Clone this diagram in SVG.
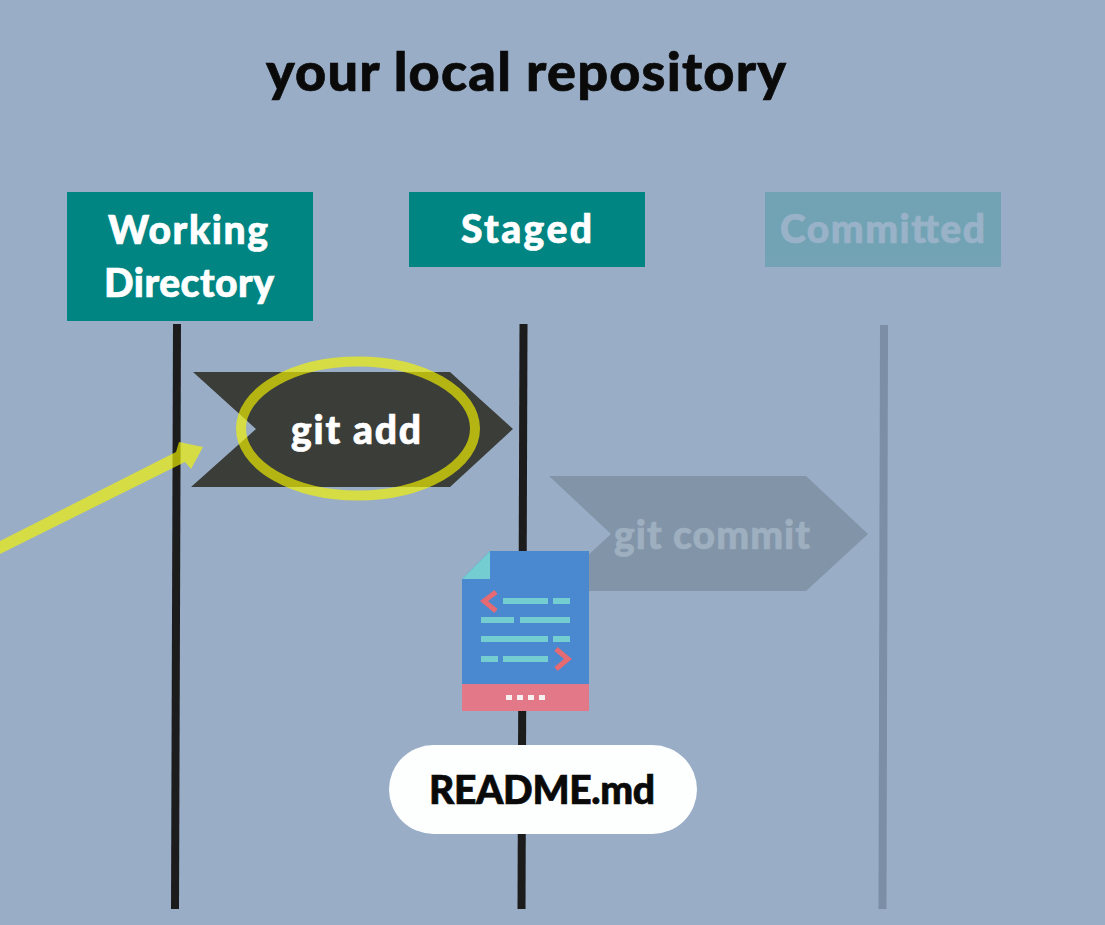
<svg xmlns="http://www.w3.org/2000/svg" width="1105" height="925" viewBox="0 0 1105 925">
<style>
text{font-family:"Lato","Liberation Sans",sans-serif;font-weight:900;text-anchor:middle;stroke-width:.7px;paint-order:stroke}
.h{fill:#fff;stroke:#fff;font-size:39px}
.hb{fill:#008583}
.ln{fill:none;stroke:#1c1c1c;stroke-width:8}
.c{fill:#74cdd0}
</style>
<rect width="1105" height="925" fill="#99adc6"/>
<text id="title" x="526" y="91" font-size="54" fill="#0a0a0a" stroke="#0a0a0a" textLength="520" lengthAdjust="spacing">your local repository</text>
<g id="connectors">
<path class="ln" d="M177 324L175 909"/>
<path class="ln" d="M523.500 324L521.500 909"/>
<path class="ln" d="M884 325L882.500 909" style="stroke:#7c8ea6"/>
</g>
<g id="working-directory"><rect class="hb" x="67" y="192" width="246" height="129"/><text class="h" x="188" y="244" textLength="160" lengthAdjust="spacing">Working</text><text class="h" x="189" y="297" textLength="170" lengthAdjust="spacing">Directory</text></g>
<g id="staged"><rect class="hb" x="409" y="192" width="236" height="75"/><text class="h" x="526.500" y="243" textLength="131" lengthAdjust="spacing">Staged</text></g>
<g id="committed" opacity=".5"><rect x="765" y="192" width="236" height="75" fill="#4d9aa3"/><text class="h" x="882.500" y="243" textLength="205" lengthAdjust="spacing" style="fill:#99b8ca;stroke:#99b8ca">Committed</text></g>
<g id="git-add">
<path d="M193 372H450L513 429L450 487H191L256 429Z" fill="#3a3d38"/>
<text x="356" y="444" font-size="39" fill="#fff" stroke="#fff" textLength="130" lengthAdjust="spacing">git add</text>
<ellipse cx="358" cy="428.500" rx="117" ry="67" fill="none" stroke="#f5f400" stroke-opacity=".66" stroke-width="10"/>
</g>
<g id="git-commit">
<path d="M549 476H806L868 534L806 591H549L611 534Z" fill="#8294a7"/>
<text x="712" y="549" font-size="39" fill="#9eafc0" stroke="#9eafc0" textLength="196" lengthAdjust="spacing">git commit</text>
</g>
<g id="file">
<path d="M490 551H589V711H462V579Z" fill="#4a88d0"/>
<path d="M490 551V579H462Z" fill="#74cdd0"/>
<rect x="462" y="684" width="127" height="27" fill="#e27888"/>
<g fill="#f6f0f0"><rect x="506" y="695" width="6" height="5"/><rect x="517" y="695" width="6" height="5"/><rect x="528" y="695" width="6" height="5"/><rect x="539" y="695" width="6" height="5"/></g>
<path d="M496 592L484 601L496 611M556 649L568 659L556 669" fill="none" stroke="#e56a72" stroke-width="5"/>
<rect class="c" x="503" y="598" width="45" height="6"/><rect class="c" x="553" y="598" width="17" height="6"/>
<rect class="c" x="481" y="617" width="33" height="6"/><rect class="c" x="520" y="617" width="50" height="6"/>
<rect class="c" x="481" y="636" width="67" height="6"/><rect class="c" x="553" y="636" width="17" height="6"/>
<rect class="c" x="481" y="656" width="17" height="6"/><rect class="c" x="503" y="656" width="45" height="6"/>
</g>
<g id="readme"><rect x="389" y="745" width="308" height="89" rx="44.500" fill="#fdfefe"/><text x="542" y="804" font-size="39" fill="#0a0a0a" stroke="#0a0a0a" textLength="226" lengthAdjust="spacing">README.md</text></g>
<g id="pointer">
<path d="M0 541L176 452L179 442L203 447L191 469L185 462L0 554Z" fill="#f5f400" fill-opacity=".66"/>
</g>
</svg>
